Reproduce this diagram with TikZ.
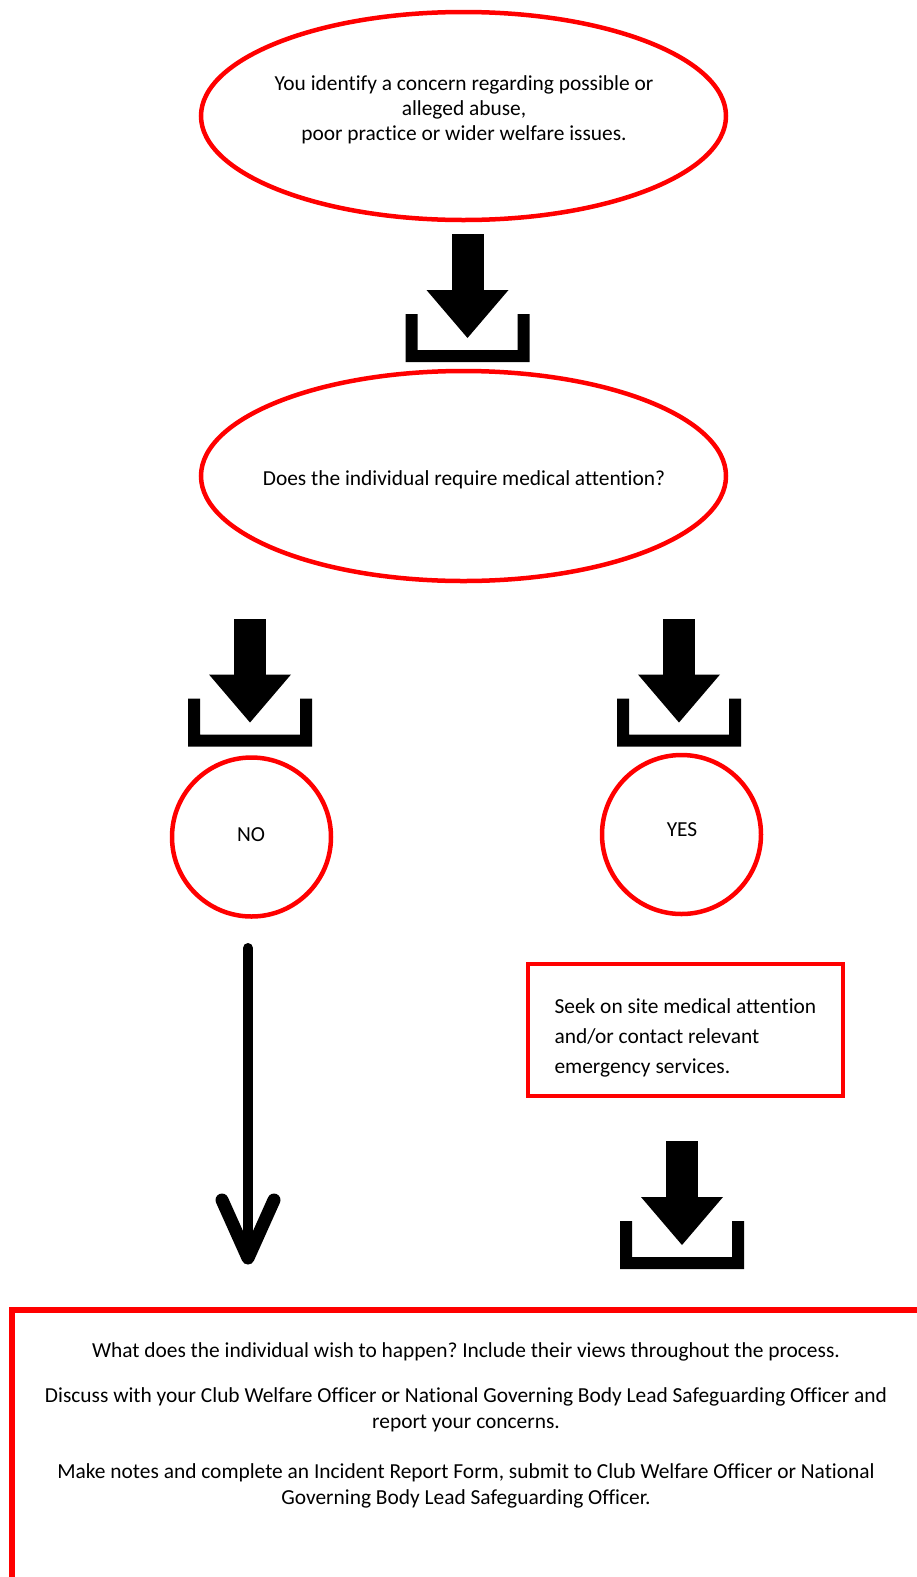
\documentclass[tikz,border=0pt]{standalone}
\usepackage{fontspec}
\setmainfont{Carlito}[Ligatures=NoCommon]
\frenchspacing
\usetikzlibrary{shapes.geometric}
\definecolor{boxred}{RGB}{255,0,0}
\tikzset{
  redell/.style={draw=boxred, line width=4.5pt, ellipse, inner sep=0pt},
  redcirc/.style={draw=boxred, line width=4.5pt, circle, inner sep=0pt, minimum size=159pt},
  txt/.style={font=\fontsize{21.4}{25}\selectfont, align=center},
  dlicon/.pic={
    \fill (-16,0) rectangle (16,57);
    \fill (-41,56) -- (41,56) -- (0,104) -- cycle;
    \fill (-62,80) -- (-50,80) -- (-50,116) -- (50,116) -- (50,80)
          -- (62,80) -- (62,128) -- (-62,128) -- cycle;
  }
}
\begin{document}
\begin{tikzpicture}[x=1pt,y=-1pt]
\useasboundingbox (0,0) rectangle (916,1577);
% top ellipse
\node[redell, minimum width=525pt, minimum height=208pt] (e1) at (463.5,116) {};
\node[txt] (t1) at (464,110) {You identify a concern regarding possible or\\alleged abuse,\\poor practice or wider welfare issues.};
% icon 1
\pic (i1) at (467.5,234) {dlicon};
% second ellipse
\node[redell, minimum width=525pt, minimum height=210pt] (e2) at (463.5,476) {};
\node[txt] (t2) at (464,480) {Does the individual require medical attention?};
% icons left and right
\pic (i2) at (250,618.5) {dlicon};
\pic (i3) at (679,618.5) {dlicon};
% circles
\node[redcirc] (no) at (251.5,837) {};
\node[txt] (tno) at (251,835) {NO};
\node[redcirc] (yes) at (681.5,834.5) {};
\node[txt] (tyes) at (682,830) {YES};
% long arrow
\coordinate (la1) at (248,948);
\coordinate (la2) at (248,1258);
\coordinate (laL) at (222,1200);
\coordinate (laR) at (274,1200);
\draw[line width=10pt, line cap=round] (la1) -- (la2);
\draw[line width=13pt, line cap=round, line join=round] (laL) -- (la2) -- (laR);
% box
\node[draw=boxred, line width=4.5pt, minimum width=315pt, minimum height=132pt, inner sep=0pt] (box) at (685.5,1030) {};
\node[font=\fontsize{21.4}{30}\selectfont, align=left, anchor=west] (tbox) at (551,1038) {Seek on site medical attention\\and/or contact relevant\\emergency services.};
% icon bottom
\pic (i4) at (682,1141) {dlicon};
% bottom box
\draw[draw=boxred, line width=6pt] (12,1600) -- (12,1310) -- (930,1310);
\node[txt] (b1) at (466,1352) {What does the individual wish to happen? Include their views throughout the process.};
\node[txt, font=\fontsize{21.4}{26}\selectfont] (b2) at (466,1410) {Discuss with your Club Welfare Officer or National Governing Body Lead Safeguarding Officer and\\report your concerns.};
\node[txt, font=\fontsize{21.4}{26}\selectfont] (b3) at (466,1486) {Make notes and complete an Incident Report Form, submit to Club Welfare Officer or National\\Governing Body Lead Safeguarding Officer.};
\end{tikzpicture}
\end{document}
